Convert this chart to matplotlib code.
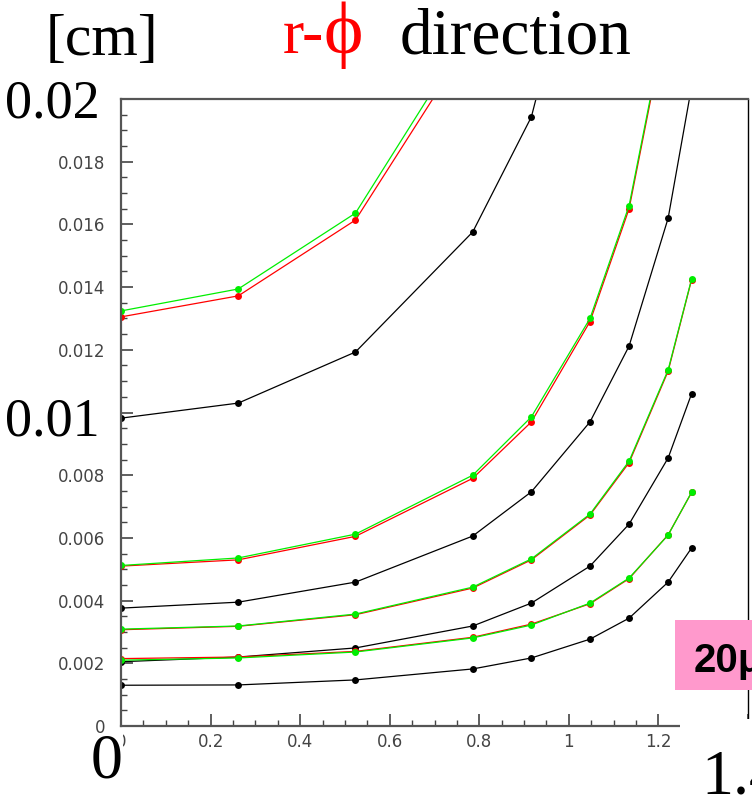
import numpy as np
import matplotlib
matplotlib.use("Agg")
import matplotlib.pyplot as plt
from matplotlib.patches import Rectangle
from matplotlib.ticker import MultipleLocator, FuncFormatter

# ------------------------------------------------------
# Data
# ------------------------------------------------------
x_vals = [0.0, 0.2618, 0.5236, 0.7854, 0.9163, 1.0472, 1.1345, 1.2217, 1.2741]

a_red = [0.01305, 0.01372, 0.01614, 0.0220]
a_green = [0.01324, 0.01394, 0.01636, 0.0223]
b_black = [0.00982, 0.0103, 0.01193, 0.01576, 0.01943, 0.0267]
c_red = [0.0051, 0.0053, 0.00605, 0.0079, 0.0097, 0.0129, 0.0165, 0.0228]
c_green = [0.00512, 0.00536, 0.00612, 0.0080, 0.00986, 0.0130, 0.0166, 0.0229]
d_black = [0.00376, 0.00395, 0.00459, 0.00606, 0.00747, 0.0097, 0.01212, 0.0162, 0.0204]
e_red = [0.00307, 0.00318, 0.00355, 0.0044, 0.0053, 0.00673, 0.0084, 0.01132, 0.01424]
e_green = [0.00309, 0.00319, 0.00357, 0.00443, 0.00533, 0.00676, 0.00845, 0.01136, 0.01426]
f_red = [0.00215, 0.0022, 0.00238, 0.00283, 0.00325, 0.0039, 0.0047, 0.0061, 0.00745]
f_green = [0.0021, 0.00217, 0.00236, 0.00281, 0.00322, 0.00392, 0.00472, 0.00609, 0.00746]
g_black = [0.00205, 0.0022, 0.00249, 0.00319, 0.00392, 0.0051, 0.00644, 0.00855, 0.0106]
h_black = [0.0013, 0.00131, 0.00147, 0.00182, 0.00217, 0.00277, 0.00344, 0.00459, 0.00568]

# (series, colour) in drawing order: red under green
SERIES = [
    (h_black, "black"), (g_black, "black"), (d_black, "black"), (b_black, "black"),
    (f_red, "#ff0000"), (f_green, "#00ee00"),
    (e_red, "#ff0000"), (e_green, "#00ee00"),
    (c_red, "#ff0000"), (c_green, "#00ee00"),
    (a_red, "#ff0000"), (a_green, "#00ee00"),
]

W, H = 752, 799
SERIF = ["Liberation Serif", "DejaVu Serif"]


def fx(px):
    return px / W


def fy(py):
    return 1 - py / H


fig = plt.figure(figsize=(W / 100, H / 100), dpi=100)
ax = fig.add_axes([fx(121), fy(726), (748 - 121) / W, (726 - 99) / H])

for ys, col in SERIES:
    ax.plot(x_vals[:len(ys)], ys, color=col, lw=0.9, marker="o", ms=5,
            markeredgewidth=0)

ax.set_xlim(0, 1.4)
ax.set_ylim(0, 0.02)

# ticks: inward, left and bottom only
ax.xaxis.set_major_locator(MultipleLocator(0.2))
ax.xaxis.set_minor_locator(MultipleLocator(0.05))
ax.yaxis.set_major_locator(MultipleLocator(0.002))
ax.yaxis.set_minor_locator(MultipleLocator(0.0005))
ax.xaxis.set_major_formatter(FuncFormatter(lambda v, p: f"{v:g}"))
ax.yaxis.set_major_formatter(
    FuncFormatter(lambda v, p: "" if abs(v - 0.01) < 1e-9 or abs(v - 0.02) < 1e-9 else f"{v:g}"))
ax.tick_params(which="both", direction="in", top=False, right=False, color="#444444")
ax.tick_params(which="major", length=8.6, width=1.2)
ax.tick_params(which="minor", length=4.3, width=1.0)
ax.tick_params(axis="x", which="major", pad=5.0, labelsize=12, labelcolor="#444444")
ax.tick_params(axis="y", which="major", pad=11.5, labelsize=12, labelcolor="#444444")

for side in ["left", "bottom", "top"]:
    ax.spines[side].set_color("#555555")
    ax.spines[side].set_linewidth(1.6)
ax.spines["right"].set_color("black")
ax.spines["right"].set_linewidth(1.0)

# white patch hiding the bottom-right corner
fig.patches.append(Rectangle((fx(680), 0), 1 - fx(680), fy(719), transform=fig.transFigure,
                             facecolor="white", edgecolor="none", zorder=2))
# pink label box
fig.patches.append(Rectangle((fx(675), fy(690)), 1 - fx(675), (690 - 620) / H,
                             transform=fig.transFigure, facecolor="#ff99cc",
                             edgecolor="none", zorder=2))
fig.text(fx(694), fy(672), "20μm", fontsize=29, fontweight="bold",
         family=["Liberation Sans", "DejaVu Sans"], va="baseline", ha="left", zorder=4)

# big axis annotations
fig.text(fx(46), fy(55), "[cm]", fontsize=43, family=SERIF, va="baseline", ha="left")
fig.text(fx(5), fy(118), "0.02", fontsize=39, family=SERIF, va="baseline", ha="left")
fig.text(fx(5), fy(436), "0.01", fontsize=39, family=SERIF, va="baseline", ha="left")
fig.text(fx(91), fy(778), "0", fontsize=46, family=SERIF, va="baseline", ha="left",
         bbox=dict(facecolor="white", edgecolor="none", pad=0))
fig.text(fx(701), fy(793), "1.4", fontsize=46, family=SERIF, va="baseline", ha="left", zorder=4)

# title
fig.text(fx(283), fy(53), "r-", fontsize=46, family=SERIF, color="red", va="baseline", ha="left")
fig.text(fx(323), fy(53), "ϕ", fontsize=54, family=SERIF, color="red", va="baseline", ha="left")
fig.text(fx(400), fy(53), "direction", fontsize=47, family=SERIF, va="baseline", ha="left")

fig.savefig("out.png", dpi=100)
